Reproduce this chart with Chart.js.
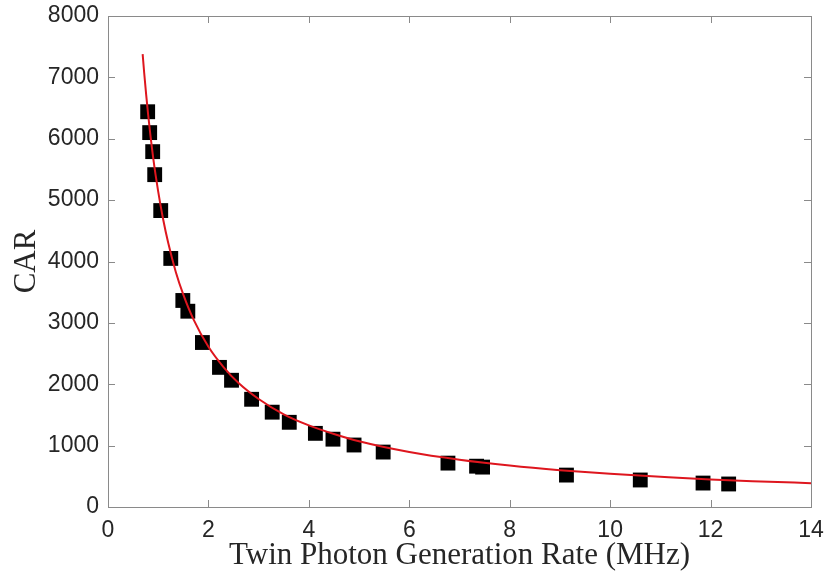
<!DOCTYPE html>
<html>
<head>
<meta charset="utf-8">
<script src="https://cdn.jsdelivr.net/npm/chart.js@4"></script>
<style>
  html, body { margin: 0; padding: 0; background: #fff; }
  #wrap { width: 826px; height: 579px; }
</style>
</head>
<body>
<div id="wrap"><canvas id="graph" width="826" height="579"></canvas></div>
<script>
// measured points (rate in MHz, CAR)
var rateX = [0.79, 0.83, 0.89, 0.93, 1.05, 1.25, 1.49, 1.59, 1.88, 2.22, 2.46, 2.86, 3.27, 3.61,
             4.13, 4.48, 4.90, 5.48, 6.77, 7.34, 7.46, 9.13, 10.60, 11.85, 12.36];
var carY = [6440, 6100, 5790, 5415, 4830, 4050, 3365, 3190, 2680, 2275, 2065, 1755, 1545, 1380,
            1200, 1105, 1010, 895, 715, 665, 650, 520, 440, 390, 375];

// fitted curve
var fitX = [0.69, 0.72, 0.76, 0.8, 0.85, 0.9, 0.95, 1.0, 1.1, 1.2, 1.35, 1.5, 1.7, 2.0, 2.3, 2.6,
            3.0, 3.5, 4.0, 4.5, 5.0, 6.0, 7.0, 8.0, 9.0, 10.0, 11.0, 12.0, 13.0, 14.0];
var fitY = [7380, 7080, 6720, 6390, 6020, 5690, 5400, 5140, 4680, 4300, 3830, 3460, 3060, 2610, 2280, 2020,
            1760, 1510, 1330, 1190, 1070, 895, 770, 675, 600, 540, 492, 448, 416, 388];

var xTicks = [0, 2, 4, 6, 8, 10, 12, 14];
var yTicks = [0, 1000, 2000, 3000, 4000, 5000, 6000, 7000, 8000];

function toXY(xs, ys) {
    return xs.map(function (x, i) { return { x: x, y: ys[i] }; });
}

// matlab style box with inward ticks
const boxTicks = {
    id: 'boxTicks',
    afterDraw(chart) {
        const ctx = chart.ctx;
        const a = chart.chartArea;
        const xs = chart.scales.x, ys = chart.scales.y;
        ctx.save();
        ctx.strokeStyle = '#8a8a8a';
        ctx.lineWidth = 1;
        ctx.strokeRect(a.left + 0.5, a.top + 0.5, a.right - a.left, a.bottom - a.top);
        ctx.beginPath();
        xTicks.forEach(function (v) {
            let px = Math.round(xs.getPixelForValue(v)) + 0.5;
            ctx.moveTo(px, a.bottom); ctx.lineTo(px, a.bottom - 7);
            ctx.moveTo(px, a.top); ctx.lineTo(px, a.top + 7);
        });
        yTicks.forEach(function (v) {
            let py = Math.round(ys.getPixelForValue(v)) + 0.5;
            ctx.moveTo(a.left, py); ctx.lineTo(a.left + 7, py);
            ctx.moveTo(a.right, py); ctx.lineTo(a.right - 7, py);
        });
        ctx.stroke();
        ctx.restore();
    }
};

const chartCtx = document.getElementById('graph').getContext('2d');

var chart = new Chart(chartCtx, {
    type: 'scatter',
    data: {
        datasets: [
            {
                label: 'Fit',
                type: 'line',
                data: toXY(fitX, fitY),
                borderColor: 'rgb(222, 22, 30)',
                borderWidth: 2,
                pointRadius: 0,
                cubicInterpolationMode: 'monotone',
                fill: false,
                order: 0
            },
            {
                label: 'CAR',
                data: toXY(rateX, carY),
                backgroundColor: '#000',
                borderColor: '#000',
                borderWidth: 0,
                pointStyle: 'rect',
                pointRadius: 10.5,
                order: 1
            }
        ]
    },
    options: {
        responsive: false,
        animation: false,
        layout: { padding: { top: 16, right: 15, bottom: 0, left: 0 } },
        plugins: { legend: { display: false }, tooltip: { enabled: false } },
        scales: {
            x: {
                type: 'linear',
                min: 0,
                max: 14,
                afterFit: function (s) {
                    s.height = 72;
                    s.paddingLeft = 0; s.paddingRight = 0;
                },
                afterBuildTicks: function (s) { s.ticks = xTicks.map(function (v) { return { value: v }; }); },
                grid: { display: false, drawTicks: false },
                border: { display: false },
                ticks: {
                    padding: 10,
                    color: '#262626',
                    font: { family: 'Liberation Sans', size: 23 },
                    maxRotation: 0,
                    callback: function (v) { return String(v); }
                },
                title: {
                    display: true,
                    text: 'Twin Photon Generation Rate (MHz)',
                    color: '#262626',
                    font: { family: 'Liberation Serif', size: 31 },
                    padding: { top: 0, bottom: 5 }
                }
            },
            y: {
                type: 'linear',
                min: 0,
                max: 8000,
                afterFit: function (s) {
                    s.width = 108;
                    s.paddingTop = 0; s.paddingBottom = 0;
                },
                afterBuildTicks: function (s) { s.ticks = yTicks.map(function (v) { return { value: v }; }); },
                grid: { display: false, drawTicks: false },
                border: { display: false },
                ticks: {
                    padding: 9,
                    color: '#262626',
                    font: { family: 'Liberation Sans', size: 23 },
                    callback: function (v) { return String(v); }
                },
                title: {
                    display: true,
                    text: 'CAR',
                    color: '#262626',
                    font: { family: 'Liberation Serif', size: 31 },
                    padding: { top: 8, bottom: 0 }
                }
            }
        }
    },
    plugins: [boxTicks]
});
</script>
</body>
</html>
